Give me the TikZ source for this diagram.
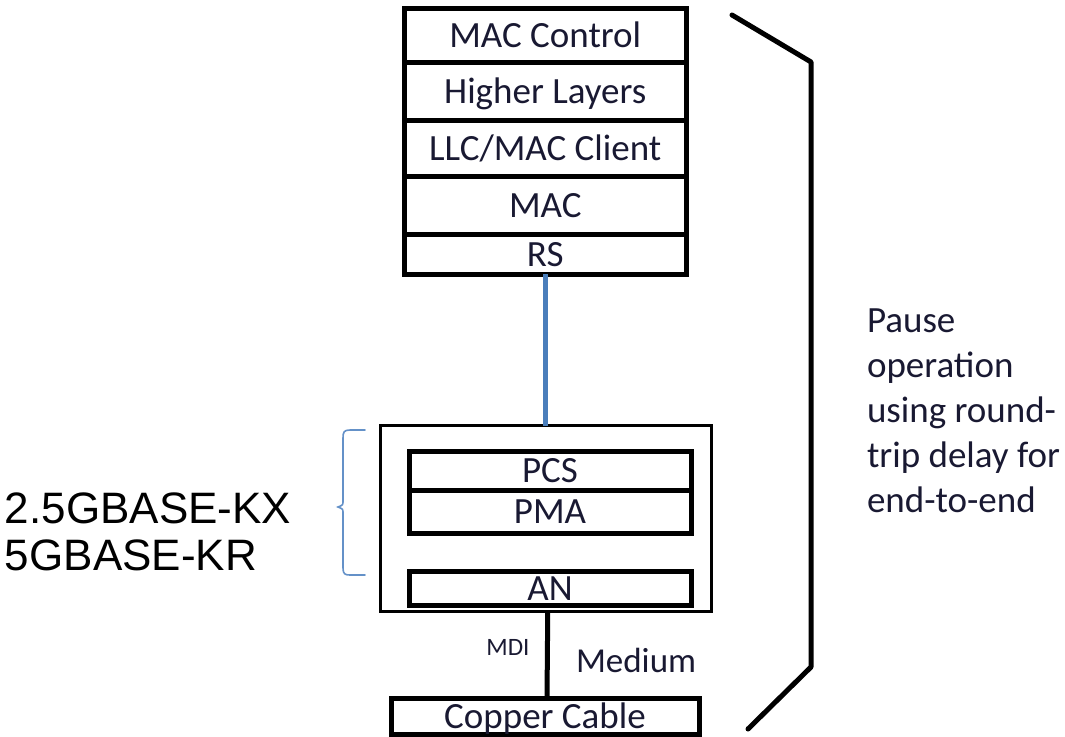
\documentclass[tikz,border=0pt]{standalone}
\usepackage{fontspec}
\setmainfont{Carlito}
\newfontfamily\arialf{Liberation Sans}
\definecolor{txt}{RGB}{25,25,50}
\definecolor{linkblue}{RGB}{74,126,187}
\definecolor{bracecol}{RGB}{100,145,200}
\begin{document}
\begin{tikzpicture}[x=1pt,y=-1pt,
  layer/.style={draw=black, line width=5pt, inner sep=0pt, outer sep=0pt,
    text=txt, font=\fontsize{37}{41}\selectfont, text height=24pt, text depth=0pt},
  outerbox/.style={draw=black, line width=3pt, inner sep=0pt, outer sep=0pt},
  lbl/.style={inner sep=0pt, outer sep=0pt, text=txt}
]
\useasboundingbox (0,0) rectangle (1065,736);
% top stack
\node[layer, minimum width=281.5pt, minimum height=54pt] (macctl) at (545.25,35.5) {MAC Control};
\node[layer, minimum width=281.5pt, minimum height=58pt] (higher) at (545.25,91.5) {Higher Layers};
\node[layer, minimum width=281.5pt, minimum height=56pt] (llc) at (545.25,148.5) {LLC/MAC Client};
\node[layer, minimum width=281.5pt, minimum height=57.5pt] (mac) at (545.25,205.25) {MAC};
\node[layer, minimum width=281.5pt, minimum height=40pt] (rs) at (545.25,254) {RS};
% lower PHY box
\node[outerbox, minimum width=331.5pt, minimum height=185.5pt] (phy) at (545.75,518.25) {};
\node[layer, minimum width=282pt, minimum height=39pt] (pcs) at (550,470.5) {PCS};
\node[layer, minimum width=282pt, minimum height=43pt] (pma) at (550,511.5) {PMA};
\node[layer, minimum width=282pt, minimum height=34.5pt] (an) at (550,588.25) {AN};
% copper cable
\node[layer, minimum width=308pt, minimum height=36pt] (copper) at (545,716) {Copper Cable};
% connectors
\coordinate (rsb) at (rs.south);
\draw[linkblue, line width=5pt] (rsb) -- (phy.north -| rsb);
\draw[black, line width=5pt] ([xshift=2pt]phy.south) -- ([xshift=2pt]copper.north);
% labels
\node[lbl, font=\fontsize{25}{28}\selectfont, anchor=base] (mdi) at (508,655) {MDI};
\node[lbl, font=\fontsize{35}{40}\selectfont, anchor=base west] (medium) at (576,672) {Medium};
\node[lbl, font=\fontsize{37}{45}\selectfont, anchor=base west] (pause) at (867,332)
  {\vtop{\baselineskip=45pt\hbox{Pause}\hbox{operation}\hbox{using round-}\hbox{trip delay for}\hbox{end-to-end}}};
\node[inner sep=0pt, outer sep=0pt, font=\arialf\fontsize{44}{47}\selectfont, anchor=base west, text=black] (phyname) at (5,523)
  {\vtop{\baselineskip=47pt\hbox{2.5GBASE-KX}\hbox{5GBASE-KR}}};
% brace
\draw[bracecol, line width=1.6pt, line cap=round]
  (365,430) -- (350,430) .. controls (344,430) and (343,432) .. (343,438)
  -- (343,501) .. controls (343,505) .. (338,507)
  .. controls (343,509) .. (343,513)
  -- (343,568) .. controls (343,574) and (345,575) .. (350,575) -- (365,575);
% big bracket
\coordinate (bt) at (732,15);
\coordinate (bb) at (748,729);
\draw[black, line width=5pt, line join=round, line cap=round]
  (bt) -- (811,62) -- (811,667) -- (bb);
\end{tikzpicture}
\end{document}
